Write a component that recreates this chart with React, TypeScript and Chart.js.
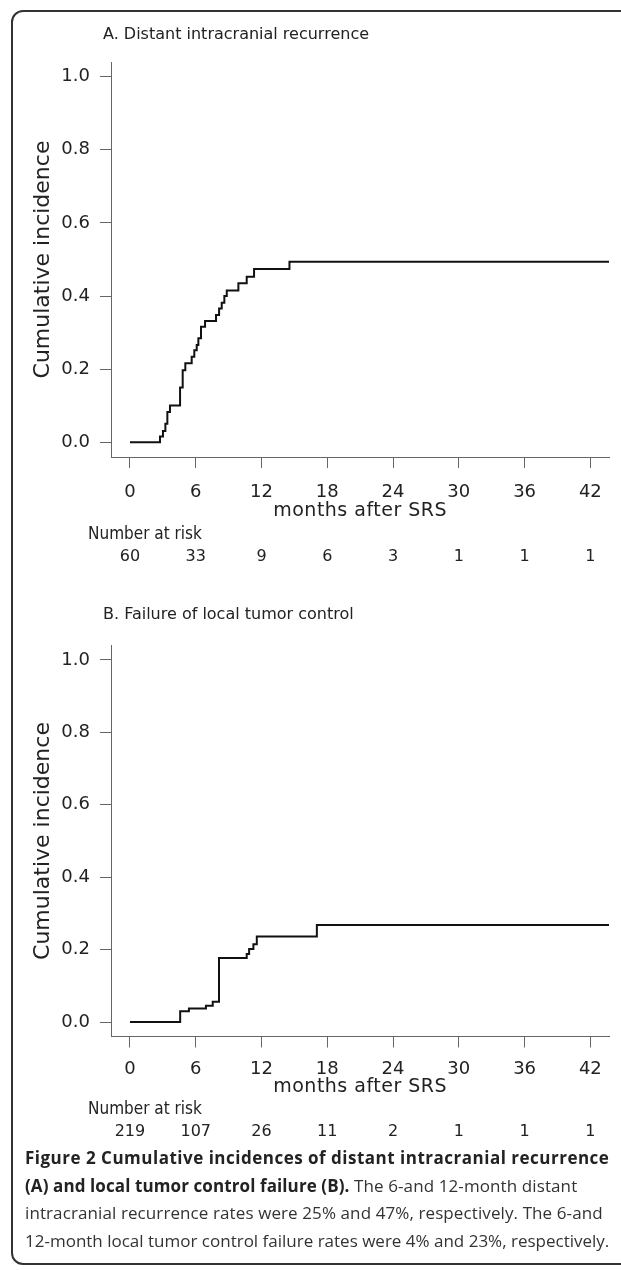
import React, { useEffect, useRef } from "react";
import { Chart, registerables } from "chart.js";

Chart.register(...registerables);

// ---- data ----
const xTickValues = [0, 6, 12, 18, 24, 30, 36, 42];
const yTickValues = [0, 0.2, 0.4, 0.6, 0.8, 1.0];

const monthsA = [0, 2.74, 3.01, 3.23, 3.41, 3.65, 4.57, 4.81, 5.05, 5.63, 5.87, 6.09, 6.24, 6.48, 6.85, 7.85, 8.13, 8.37, 8.61, 8.83, 9.89, 10.65, 11.32, 14.55, 43.7];
const incidenceA = [0, 0.016, 0.031, 0.051, 0.083, 0.101, 0.15, 0.197, 0.216, 0.234, 0.252, 0.266, 0.285, 0.316, 0.332, 0.348, 0.366, 0.382, 0.4, 0.415, 0.435, 0.453, 0.474, 0.494, 0.494];
const riskA = ["60", "33", "9", "6", "3", "1", "1", "1"];

const monthsB = [0, 4.58, 5.38, 6.93, 7.55, 8.12, 10.65, 10.87, 11.26, 11.57, 17.05, 43.7];
const incidenceB = [0, 0.03, 0.037, 0.045, 0.056, 0.177, 0.188, 0.202, 0.215, 0.236, 0.268, 0.268];
const riskB = ["219", "107", "26", "11", "2", "1", "1", "1"];

const titleA = "A. Distant intracranial recurrence";
const titleB = "B. Failure of local tumor control";
const yLabel = "Cumulative incidence";
const xLabel = "months after SRS";
const riskLabel = "Number at risk";

const FONT = "'DejaVu Sans', sans-serif";
const COND = "'DejaVu Sans Condensed', 'DejaVu Sans', sans-serif";
const AXIS_COLOR = "#666";
const TEXT_COLOR = "#222";

type PanelProps = {
  top: number;
  height: number;
  plotTop: number;
  plotBottom: number;
  tickPad: number;
  title: string;
  months: number[];
  values: number[];
  risk: string[];
  textY: { title: number; xlab: number; riskLab: number; risk: number };
};

function Panel(props: PanelProps) {
  const ref = useRef<HTMLCanvasElement | null>(null);
  useEffect(() => {
    const canvas = ref.current;
    if (!canvas) return;
    const { height, plotTop, plotBottom, tickPad, title, months, values, risk, textY } = props;
    const textPlugin = {
      id: "panelText",
      afterDraw(chart: any) {
        const ctx = chart.ctx;
        const xs = chart.scales.x;
        const area = chart.chartArea;
        ctx.save();
        ctx.fillStyle = TEXT_COLOR;
        ctx.textBaseline = "middle";
        ctx.font = `16px ${FONT}`;
        ctx.textAlign = "left";
        ctx.fillText(title, 103, textY.title);
        // y label
        ctx.save();
        ctx.translate(43, (area.top + area.bottom) / 2);
        ctx.rotate(-Math.PI / 2);
        ctx.textAlign = "center";
        ctx.font = `22px ${FONT}`;
        ctx.fillText(yLabel, 0, 0);
        ctx.restore();
        // x label
        ctx.textAlign = "center";
        ctx.font = `19px ${FONT}`;
        try {
          (ctx as any).letterSpacing = "0.5px";
        } catch (e) {}
        const mid = (xs.getPixelForValue(0) + xs.getPixelForValue(42)) / 2;
        ctx.fillText(xLabel, mid, textY.xlab);
        try {
          (ctx as any).letterSpacing = "0px";
        } catch (e) {}
        ctx.textAlign = "left";
        ctx.font = `17px ${COND}`;
        ctx.fillText(riskLabel, 88, textY.riskLab);
        ctx.textAlign = "center";
        ctx.font = `16px ${FONT}`;
        risk.forEach((r, i) => {
          ctx.fillText(r, xs.getPixelForValue(xTickValues[i]), textY.risk);
        });
        ctx.restore();
      },
    };
    const chart = new Chart(canvas, {
      type: "line",
      data: {
        datasets: [
          {
            data: months.map((m, i) => ({ x: m, y: values[i] })),
            stepped: true,
            borderColor: "#111",
            borderWidth: 2,
            pointRadius: 0,
            fill: false,
          },
        ],
      },
      options: {
        animation: false,
        responsive: false,
        devicePixelRatio: 1,
        layout: { padding: { top: plotTop, right: 12, left: 0, bottom: 0 } },
        plugins: { legend: { display: false }, tooltip: { enabled: false }, title: { display: false } },
        scales: {
          x: {
            type: "linear",
            min: -1.73,
            max: 43.7,
            afterBuildTicks: (s: any) => {
              s.ticks = xTickValues.map((v) => ({ value: v }));
            },
            afterFit: (s: any) => {
              s.height = height - plotBottom;
            },
            ticks: {
              font: { family: FONT, size: 18 },
              color: TEXT_COLOR,
              padding: tickPad,
              maxRotation: 0,
              autoSkip: false,
            },
            grid: { drawOnChartArea: false, drawTicks: true, tickLength: 11, color: AXIS_COLOR, lineWidth: 1 },
            border: { display: true, color: AXIS_COLOR, width: 1 },
          },
          y: {
            type: "linear",
            min: -0.04,
            max: 1.04,
            afterBuildTicks: (s: any) => {
              s.ticks = yTickValues.map((v) => ({ value: v }));
            },
            afterFit: (s: any) => {
              s.width = 111;
            },
            ticks: {
              font: { family: FONT, size: 18 },
              color: TEXT_COLOR,
              padding: 10,
              callback: (v: any) => Number(v).toFixed(1),
            },
            grid: { drawOnChartArea: false, drawTicks: true, tickLength: 11, color: AXIS_COLOR, lineWidth: 1 },
            border: { display: true, color: AXIS_COLOR, width: 1 },
          },
        },
      },
      plugins: [textPlugin],
    });
    return () => chart.destroy();
  }, []);
  return (
    <canvas
      ref={ref}
      width={621}
      height={props.height}
      style={{ position: "absolute", left: 0, top: props.top, width: 621, height: props.height }}
    />
  );
}

export default function App() {
  return (
    <div style={{ position: "absolute", left: 0, top: 0, width: 621, height: 1270, overflow: "hidden", background: "#fff" }}>
      <div
        style={{
          position: "absolute",
          left: 11,
          top: 10,
          width: 660,
          height: 1255,
          border: "2px solid #333",
          borderRadius: 12,
          boxSizing: "border-box",
        }}
      />
      <Panel
        top={0}
        height={590}
        plotTop={62}
        plotBottom={457}
        tickPad={14}
        title={titleA}
        months={monthsA}
        values={incidenceA}
        risk={riskA}
        textY={{ title: 35, xlab: 511, riskLab: 535, risk: 557 }}
      />
      <Panel
        top={580}
        height={570}
        plotTop={65.5}
        plotBottom={456.5}
        tickPad={11}
        title={titleB}
        months={monthsB}
        values={incidenceB}
        risk={riskB}
        textY={{ title: 35, xlab: 507, riskLab: 530, risk: 552 }}
      />
      <div
        style={{
          position: "absolute",
          left: 25,
          top: 1144,
          width: 600,
          fontFamily: "'Open Sans', sans-serif",
          fontSize: 17,
          lineHeight: "27.7px",
          color: "#333",
          whiteSpace: "nowrap",
        }}
      >
        <div style={{ letterSpacing: "0.5px", color: "#222" }}>
          <b>Figure 2 Cumulative incidences of distant intracranial recurrence</b>
        </div>
        <div style={{ letterSpacing: "0.1px" }}>
          <b style={{ color: "#222" }}>(A) and local tumor control failure (B).</b> The 6-and 12-month distant
        </div>
        <div style={{ letterSpacing: "0.1px" }}>intracranial recurrence rates were 25% and 47%, respectively. The 6-and</div>
        <div>12-month local tumor control failure rates were 4% and 23%, respectively.</div>
      </div>
    </div>
  );
}
